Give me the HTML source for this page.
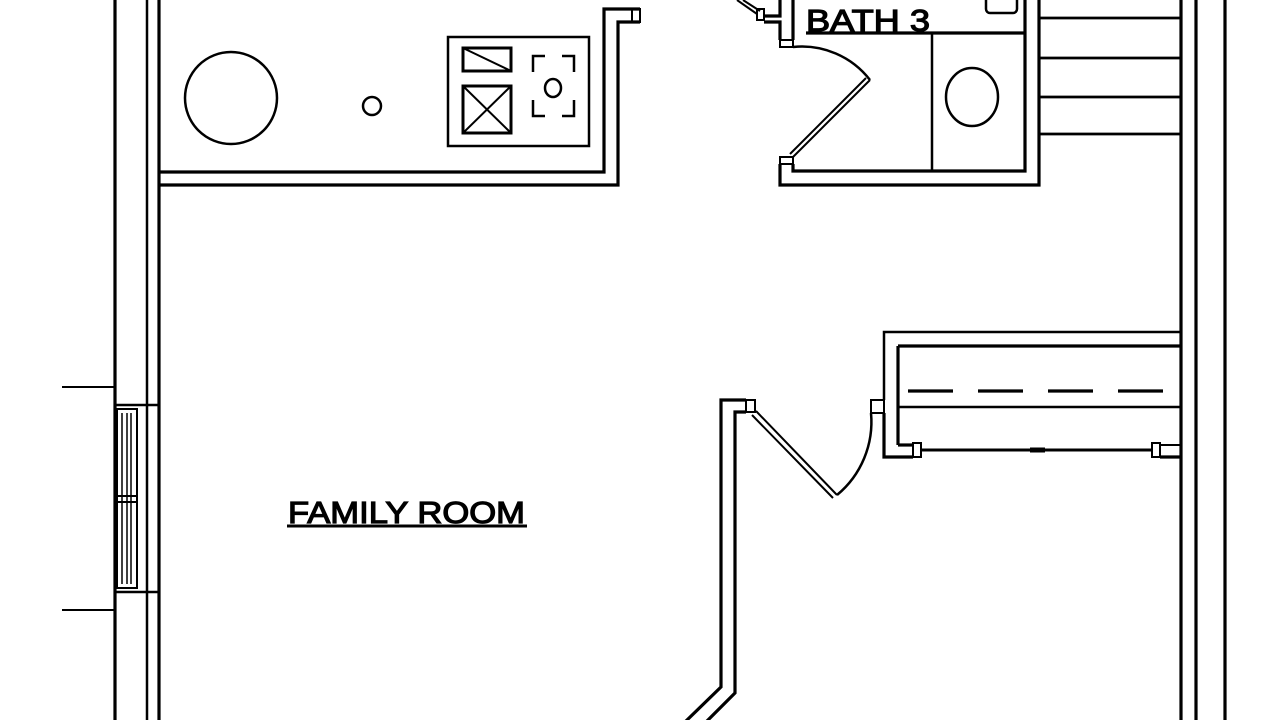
<!DOCTYPE html>
<html><head><meta charset="utf-8"><style>
html,body{margin:0;padding:0;background:#fff;}
svg{display:block;}
text{font-family:"Liberation Sans",sans-serif;fill:#000;stroke:#000;stroke-width:1.2;}
</style></head><body>
<svg width="1280" height="720" viewBox="0 0 1280 720" xmlns="http://www.w3.org/2000/svg">
<rect width="1280" height="720" fill="#fff"/>
<g fill="none" stroke="#000" stroke-width="3.2" stroke-linejoin="miter">
<line x1="115" y1="0" x2="115" y2="720"/>
<line x1="147" y1="0" x2="147" y2="720" stroke-width="2.5"/>
<line x1="159" y1="0" x2="159" y2="720"/>
<line x1="62" y1="387" x2="115" y2="387" stroke-width="2"/>
<line x1="62" y1="610" x2="115" y2="610" stroke-width="2"/>
<line x1="115" y1="405" x2="159" y2="405" stroke-width="2.5"/>
<line x1="115" y1="592" x2="159" y2="592" stroke-width="2.5"/>
<rect x="117" y="409" width="20" height="179" stroke-width="2"/>
<line x1="117" y1="496" x2="137" y2="496" stroke-width="2"/>
<line x1="117" y1="502" x2="137" y2="502" stroke-width="2"/>
<line x1="122" y1="413" x2="122" y2="584" stroke-width="1.5"/>
<line x1="127" y1="413" x2="127" y2="584" stroke-width="1.5"/>
<line x1="131" y1="413" x2="131" y2="584" stroke-width="1.5"/>

<polyline points="159,172 604,172 604,9 640,9"/>
<polyline points="159,185 618,185 618,22 640,22"/>
<rect x="632" y="9" width="8" height="13" stroke-width="2"/>
<ellipse cx="231" cy="98" rx="46" ry="46" stroke-width="2.5"/>
<ellipse cx="372" cy="106" rx="9" ry="9" stroke-width="2.5"/>
<rect x="448" y="37" width="141" height="109" stroke-width="2.5"/>
<rect x="463" y="48" width="48" height="23" stroke-width="3"/>
<line x1="463" y1="48" x2="511" y2="71" stroke-width="2"/>
<rect x="463" y="86" width="48" height="47" stroke-width="3"/>
<line x1="463" y1="86" x2="511" y2="133" stroke-width="2"/>
<line x1="511" y1="86" x2="463" y2="133" stroke-width="2"/>
<g stroke-width="2.5">
<polyline points="545,56 533,56 533,72"/>
<polyline points="562,56 574,56 574,72"/>
<polyline points="533,100 533,116 545,116"/>
<polyline points="574,100 574,116 562,116"/>
</g>
<ellipse cx="553" cy="88" rx="8" ry="9" stroke-width="2.5"/>

<line x1="737" y1="0" x2="757" y2="14" stroke-width="2"/>
<line x1="743" y1="0" x2="760" y2="11" stroke-width="2"/>
<rect x="757" y="9" width="7" height="11" stroke-width="2"/>
<polyline points="780,0 780,16 764,16"/>
<polyline points="764,22 780,22 780,40"/>
<line x1="793" y1="0" x2="793" y2="40"/>
<rect x="780" y="40" width="13" height="7" stroke-width="2"/>
<path d="M793,47 A86,86 0 0 1 870,80" stroke-width="2.5"/>
<line x1="870" y1="80" x2="793" y2="157" stroke-width="2"/>
<line x1="866" y1="78" x2="790" y2="154" stroke-width="2"/>
<rect x="780" y="157" width="13" height="7" stroke-width="2"/>
<polyline points="780,164 780,185 1039,185 1039,0"/>
<polyline points="793,164 793,171 1025,171 1025,0"/>
<line x1="806" y1="33" x2="1025" y2="33"/>
<line x1="932" y1="33" x2="932" y2="171" stroke-width="2.5"/>
<ellipse cx="972" cy="97" rx="26" ry="29" stroke-width="2.5"/>
<rect x="986" y="-5" width="31" height="18" rx="4" stroke-width="2.5"/>
<g stroke-width="2.8">
<line x1="1039" y1="18" x2="1181" y2="18"/>
<line x1="1039" y1="58" x2="1181" y2="58"/>
<line x1="1039" y1="97" x2="1181" y2="97"/>
<line x1="1039" y1="134" x2="1181" y2="134"/>
</g>
<line x1="1181" y1="0" x2="1181" y2="720"/>
<line x1="1196" y1="0" x2="1196" y2="720"/>
<line x1="1225" y1="0" x2="1225" y2="720"/>

<polyline points="884,400 884,332 1181,332" stroke-width="2.5"/>
<line x1="898" y1="346" x2="1181" y2="346"/>
<line x1="898" y1="346" x2="898" y2="445"/>
<line x1="908" y1="391" x2="1181" y2="391" stroke-dasharray="45,25"/>
<line x1="898" y1="407" x2="1181" y2="407" stroke-width="2.5"/>
<polyline points="898,445 913,445"/>
<rect x="913" y="443" width="8" height="14" stroke-width="2"/>
<polyline points="884,413 884,457 913,457"/>
<rect x="871" y="400" width="13" height="13" stroke-width="2"/>
<line x1="921" y1="450" x2="1152" y2="450" stroke-width="3"/>
<line x1="1030" y1="450" x2="1045" y2="450" stroke-width="5"/>
<rect x="1152" y="443" width="8" height="14" stroke-width="2"/>
<polyline points="1160,457 1181,457"/>
<polyline points="1160,445 1181,445" stroke-width="2"/>
<path d="M871,413 A95,95 0 0 1 837,495" stroke-width="2.5"/>
<line x1="756" y1="411" x2="837" y2="495" stroke-width="2"/>
<line x1="752" y1="415" x2="833" y2="498" stroke-width="2"/>
<rect x="746" y="400" width="9" height="12" stroke-width="2"/>
<polyline points="746,400 721,400 721,687 685,722"/>
<polyline points="746,412 735,412 735,693 706,722"/>

<line x1="287" y1="526" x2="527" y2="526" stroke-width="3"/>
</g>
<text x="806" y="31" font-size="31" textLength="124" lengthAdjust="spacingAndGlyphs">BATH 3</text>
<text x="288" y="523" font-size="31" textLength="237" lengthAdjust="spacingAndGlyphs">FAMILY ROOM</text>
</svg>
</body></html>
